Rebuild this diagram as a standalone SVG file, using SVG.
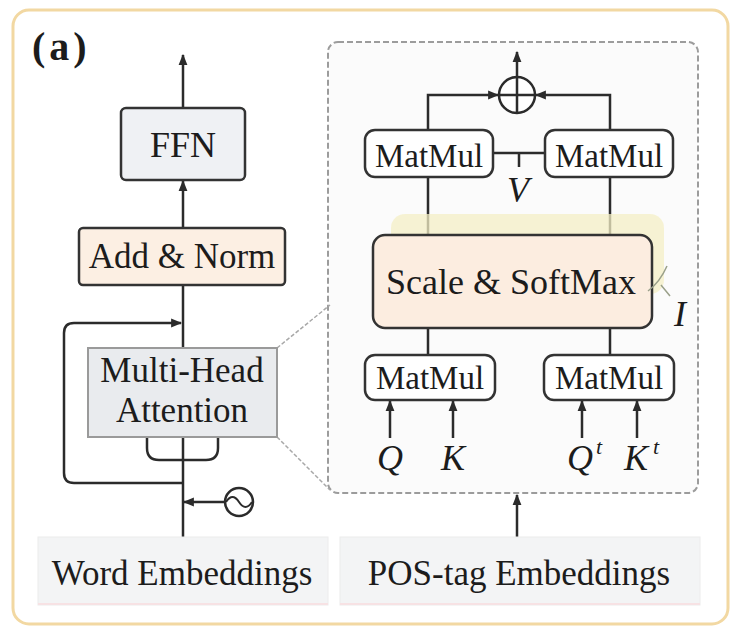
<svg xmlns="http://www.w3.org/2000/svg" width="733" height="627" viewBox="0 0 733 627">
<defs>
<marker id="ah" viewBox="0 0 10 10" refX="9" refY="5" markerWidth="11" markerHeight="11" markerUnits="userSpaceOnUse" orient="auto"><path d="M0,1 L10,5 L0,9 z" fill="#2b2b2b"/></marker>
</defs>
<style>
.t{font-family:"Liberation Serif","Times New Roman",serif;font-size:35px;fill:#1c1c1c;text-anchor:middle}
.it{font-style:italic}
.bx{stroke:#333;stroke-width:2.5}
.ln{stroke:#2b2b2b;stroke-width:2.5;fill:none}
.mm{fill:#fff;stroke:#333;stroke-width:2.5}
.emb{fill:#f3f4f5;stroke:#ececec;stroke-width:1}
</style>
<rect width="733" height="627" fill="#fff"/>
<g id="frame"><rect x="13" y="10" width="715" height="614" rx="16" fill="#fff" stroke="#f2d8a2" stroke-width="3"/></g>
<g id="label-a"><text x="32" y="60" class="t" style="text-anchor:start;font-weight:bold;font-size:40px;letter-spacing:4px">(a)</text></g>

<g id="dashed-box"><rect x="328" y="42" width="370" height="451" rx="10" fill="#fbfbfb" stroke="#9c9c9c" stroke-width="2" stroke-dasharray="6 3"/></g>

<g id="connectors">
<path class="ln" d="M183,108 L183,55" marker-end="url(#ah)"/>
<path class="ln" d="M183,228 L183,181" marker-end="url(#ah)"/>
<path class="ln" d="M183,348 L183,285"/>
<path class="ln" d="M183,537 L183,437"/>
<path class="ln" d="M183,483 L74,483 Q64,483 64,473 L64,333 Q64,323 74,323 L181,323" marker-end="url(#ah)"/>
<path class="ln" d="M147,437 L147,448 Q147,460 159,460 L206,460 Q218,460 218,448 L218,437"/>
<path class="ln" d="M225,502 L184,502" marker-end="url(#ah)"/>
<path d="M277,348 L330,305 M277,437 L330,490" stroke="#a8a8a8" stroke-width="1.5" stroke-dasharray="4 2" fill="none"/>
<path class="ln" d="M428,130 L428,95 L498,95" marker-end="url(#ah)"/>
<path class="ln" d="M610,130 L610,95 L536,95" marker-end="url(#ah)"/>
<path class="ln" d="M517,77 L517,52" marker-end="url(#ah)"/>
<path class="ln" d="M493,153 L545,153 M519,153 L519,167"/>
<path class="ln" d="M428,177 L428,235 M610,177 L610,235 M428,328 L428,355 M610,328 L610,355"/>
<path class="ln" d="M390,438 L390,401" marker-end="url(#ah)"/>
<path class="ln" d="M453,438 L453,401" marker-end="url(#ah)"/>
<path class="ln" d="M582,438 L582,401" marker-end="url(#ah)"/>
<path class="ln" d="M637,438 L637,401" marker-end="url(#ah)"/>
<path class="ln" d="M517,537 L517,495" marker-end="url(#ah)"/>
</g>

<g id="ffn"><rect x="121" y="108" width="124" height="72" rx="5" fill="#eff1f4" class="bx"/><text x="183" y="157" class="t" style="font-size:36px">FFN</text></g>
<g id="add-norm"><rect x="79" y="228" width="206" height="57" rx="4" fill="#fcefe3" class="bx"/><text x="182" y="268" class="t">Add &amp; Norm</text></g>
<g id="mha"><rect x="88" y="348" width="189" height="89" fill="#e9ebee" stroke="#9a9a9a" stroke-width="2"/><text x="182" y="382" class="t">Multi-Head</text><text x="182" y="422" class="t">Attention</text></g>
<g id="pos-enc"><circle cx="239" cy="502" r="14" fill="#fff" stroke="#2b2b2b" stroke-width="2.5"/><path d="M226,502 q6.5,-10 13,0 t13,0" fill="none" stroke="#2b2b2b" stroke-width="2"/></g>
<g id="word-emb"><rect x="38" y="537" width="290" height="68" class="emb"/><line x1="38" y1="604" x2="328" y2="604" stroke="#f7e2e4" stroke-width="2"/><text x="182" y="585" class="t">Word Embeddings</text></g>
<g id="pos-emb"><rect x="340" y="537" width="360" height="68" class="emb"/><line x1="340" y1="604" x2="700" y2="604" stroke="#f7e2e4" stroke-width="2"/><text x="519" y="585" class="t">POS-tag Embeddings</text></g>

<g id="oplus"><circle cx="517" cy="95" r="18" fill="#fff" stroke="#2b2b2b" stroke-width="2.5"/><path d="M499,95 L535,95 M517,77 L517,113" stroke="#2b2b2b" stroke-width="2.5"/></g>
<g id="matmul-tl"><rect x="365" y="130" width="128" height="47" rx="10" class="mm"/><text x="429" y="167" class="t" style="font-size:33px">MatMul</text></g>
<g id="matmul-tr"><rect x="545" y="130" width="128" height="47" rx="10" class="mm"/><text x="609" y="167" class="t" style="font-size:33px">MatMul</text></g>
<g id="v-label"><text x="518" y="202" class="t it" style="font-size:36px">V</text></g>
<g id="softmax"><rect x="391" y="214" width="273" height="80" rx="14" fill="#f4efc6" opacity="0.75"/><rect x="373" y="235" width="279" height="93" rx="12" fill="#fcede0" class="bx"/><text x="511" y="294" class="t" style="font-size:36px">Scale &amp; SoftMax</text></g>
<g id="i-label"><path d="M648,291 Q660,282 667,266 M661,285 L670,296" fill="none" stroke="#9aa08a" stroke-width="1.5"/><text x="680" y="326" class="t it" style="font-size:36px">I</text></g>
<g id="matmul-bl"><rect x="365" y="355" width="130" height="45" rx="10" class="mm"/><text x="430" y="389" class="t" style="font-size:33px">MatMul</text></g>
<g id="matmul-br"><rect x="544" y="355" width="130" height="45" rx="10" class="mm"/><text x="609" y="389" class="t" style="font-size:33px">MatMul</text></g>
<g id="qk-labels">
<text x="580" y="470" class="t it" style="font-size:36px">Q</text>
<text x="390" y="470" class="t it" style="font-size:36px">Q</text>
<text x="453" y="470" class="t it" style="font-size:36px">K</text>
<text x="599" y="454" class="t it" style="font-size:22px">t</text>
<text x="636" y="470" class="t it" style="font-size:36px">K</text><text x="656" y="454" class="t it" style="font-size:22px">t</text>
</g>
</svg>
